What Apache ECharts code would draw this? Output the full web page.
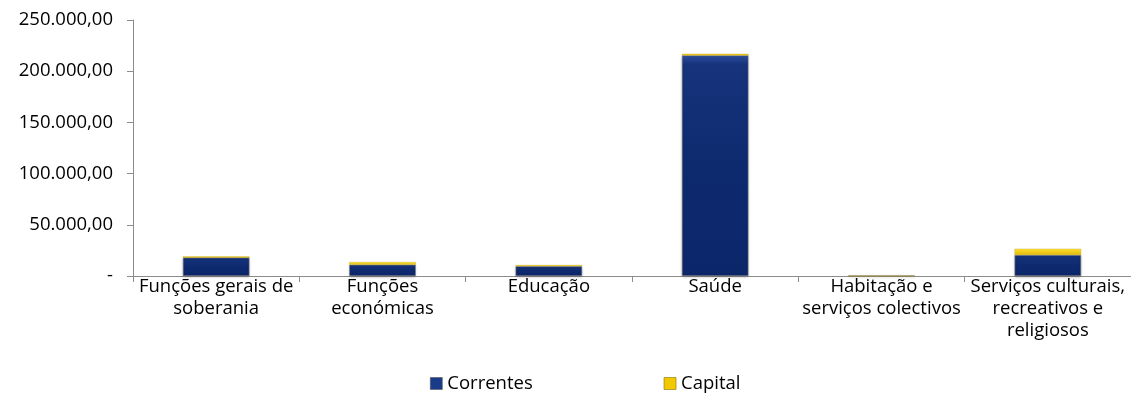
<!DOCTYPE html>
<html>
<head>
<meta charset="utf-8">
<script src="https://cdn.jsdelivr.net/npm/echarts@6/dist/echarts.min.js"></script>
<style>
  html, body { margin: 0; padding: 0; background: #fff; }
  #chart { width: 1131px; height: 396px; }
</style>
</head>
<body>
<div id="chart"></div>
<script>
// Despesa por função: correntes e de capital
const categories = [
  'Funções gerais de\nsoberania',
  'Funções\neconómicas',
  'Educação',
  'Saúde',
  'Habitação e\nserviços colectivos',
  'Serviços culturais,\nrecreativos e\nreligiosos'
];
const correntes = [18000, 11000, 9500, 215500, 100, 20500];
const capital = [1200, 2600, 1200, 1500, 0, 6100];
const yTicks = [0, 50000, 100000, 150000, 200000, 250000];

const fmt = v => {
  if (v === 0) return '-';
  const parts = Math.round(v).toString().replace(/\B(?=(\d{3})+(?!\d))/g, '.');
  return parts + ',00';
};

const font = 'Open Sans, Noto Sans, sans-serif';
const fontSize = 18.5;

const blueFill = new echarts.graphic.LinearGradient(0, 0, 0, 1, [
  { offset: 0, color: '#2f4f9f' },
  { offset: 0.04, color: '#16337c' },
  { offset: 0.5, color: '#0e2a6f' },
  { offset: 1, color: '#0c266a' }
]);
const yellowFill = new echarts.graphic.LinearGradient(0, 0, 0, 1, [
  { offset: 0, color: '#ffe13a' },
  { offset: 1, color: '#e0b800' }
]);

const chart = echarts.init(document.getElementById('chart'));
chart.setOption({
  animation: false,
  grid: { left: 133, right: 0, top: 20, bottom: 120 },
  legend: {
    top: 374,
    left: 430,
    padding: 0,
    itemGap: 131,
    itemWidth: 12,
    itemHeight: 12,
    icon: 'rect',
    textStyle: { fontFamily: font, fontSize: fontSize, color: '#000' },
    data: [
      { name: 'Correntes', itemStyle: { color: '#1a3a8a', borderColor: '#555', borderWidth: 0.6 } },
      { name: 'Capital', itemStyle: { color: '#f2c800', borderColor: '#8a7400', borderWidth: 0.6 } }
    ]
  },
  xAxis: {
    type: 'category',
    data: categories,
    axisLine: { lineStyle: { color: '#8c8c8c', width: 1 } },
    axisTick: { show: true, length: 6, lineStyle: { color: '#8c8c8c' } },
    axisLabel: {
      interval: 0,
      margin: 0,
      fontFamily: font,
      fontSize: fontSize,
      lineHeight: 22,
      color: '#000'
    }
  },
  yAxis: {
    type: 'value',
    min: 0,
    max: 250000,
    interval: 50000,
    axisLine: { show: true, lineStyle: { color: '#8c8c8c' } },
    axisTick: { show: true, length: 6, inside: false, lineStyle: { color: '#8c8c8c' } },
    splitLine: { show: false },
    axisLabel: {
      margin: 20,
      fontFamily: font,
      fontSize: fontSize,
      color: '#000',
      formatter: v => yTicks.includes(v) ? fmt(v) : ''
    }
  },
  series: [
    {
      name: 'Correntes',
      type: 'bar',
      stack: 'total',
      barWidth: '40%',
      data: correntes,
      itemStyle: {
        color: blueFill,
        borderColor: '#7a7a7a',
        borderWidth: 0.6,
        shadowColor: 'rgba(0,0,0,0.25)',
        shadowBlur: 3,
        shadowOffsetY: 1
      }
    },
    {
      name: 'Capital',
      type: 'bar',
      stack: 'total',
      barWidth: '40%',
      data: capital,
      itemStyle: {
        color: yellowFill,
        borderColor: '#b89a00',
        borderWidth: 0.3
      }
    }
  ]
});
</script>
</body>
</html>
